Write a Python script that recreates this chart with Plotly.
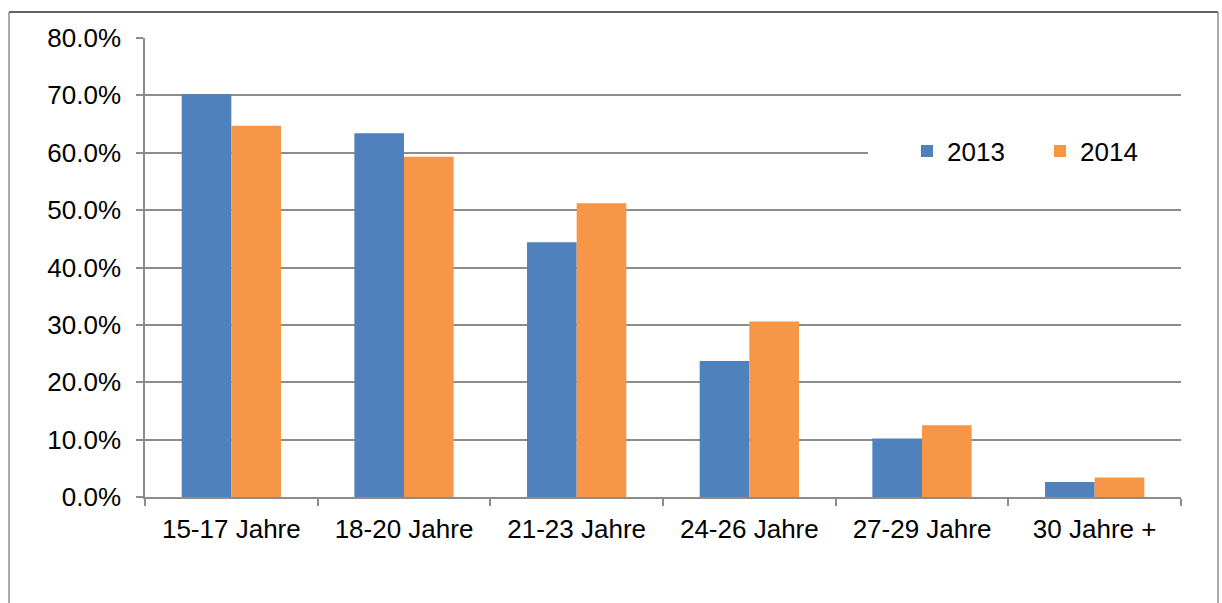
import plotly.graph_objects as go

# Age groups and shares per year
categories = ["15-17 Jahre", "18-20 Jahre", "21-23 Jahre", "24-26 Jahre", "27-29 Jahre", "30 Jahre +"]
share_2013 = [0.702, 0.634, 0.444, 0.237, 0.102, 0.026]
share_2014 = [0.647, 0.593, 0.512, 0.306, 0.125, 0.034]
y_ticks = [0, 0.1, 0.2, 0.3, 0.4, 0.5, 0.6, 0.7, 0.8]

BLUE = "#4F81BD"
ORANGE = "#F79646"
GRID = "#8C8C8C"
FONT = "Liberation Sans, Arial, sans-serif"

fig = go.Figure()
fig.add_trace(go.Bar(name="2013", x=categories, y=share_2013, marker=dict(color=BLUE, line=dict(width=0))))
fig.add_trace(go.Bar(name="2014", x=categories, y=share_2014, marker=dict(color=ORANGE, line=dict(width=0))))

W, H = 1222, 603
L, R, T, B = 145, 41, 38, 106
pw, ph = W - L - R, H - T - B


def px_x(x):
    return (x - L) / pw


def px_y(y):
    return (H - B - y) / ph


shapes = [
    # white patch behind the legend, hiding the gridline there
    dict(type="rect", xref="paper", yref="paper", x0=px_x(868), x1=1.005, y0=px_y(190), y1=px_y(115),
         fillcolor="white", line=dict(width=0), layer="above"),
    # outer frame
    dict(type="line", xref="paper", yref="paper", x0=px_x(9), x1=px_x(1218), y0=px_y(12), y1=px_y(12),
         line=dict(color="#303030", width=1.5), layer="above"),
    dict(type="line", xref="paper", yref="paper", x0=px_x(9), x1=px_x(9), y0=px_y(12), y1=px_y(610),
         line=dict(color="#8C8C8C", width=1.5), layer="above"),
    dict(type="line", xref="paper", yref="paper", x0=px_x(1218), x1=px_x(1218), y0=px_y(12), y1=px_y(610),
         line=dict(color="#8C8C8C", width=1.5), layer="above"),
]

fig.update_layout(
    width=W, height=H,
    margin=dict(l=L, r=R, t=T, b=B, pad=0),
    paper_bgcolor="white", plot_bgcolor="white",
    barmode="group", bargap=0.425, bargroupgap=0,
    font=dict(family=FONT, size=26, color="#000000"),
    showlegend=True,
    legend=dict(orientation="h", x=px_x(907), y=px_y(151), xanchor="left", yanchor="middle",
                bgcolor="rgba(0,0,0,0)", font=dict(size=26), entrywidth=88, entrywidthmode="pixels",
                itemsizing="constant", traceorder="normal"),
    shapes=shapes,
    xaxis=dict(
        type="category", showgrid=False, showline=True, linecolor=GRID, linewidth=1.5,
        ticks="outside", tickson="boundaries", ticklen=7, tickcolor=GRID, tickwidth=1.5,
        ticklabelstandoff=8, tickfont=dict(size=26),
    ),
    yaxis=dict(
        range=[0, 0.8], tickvals=y_ticks, tickformat=".1%", showgrid=True, gridcolor=GRID, gridwidth=1.5,
        showline=True, linecolor=GRID, linewidth=1.5, ticks="outside", ticklen=7, tickcolor=GRID,
        tickwidth=1.5, ticklabelstandoff=10, zeroline=False, tickfont=dict(size=26),
    ),
)

fig.write_html("out.html")
